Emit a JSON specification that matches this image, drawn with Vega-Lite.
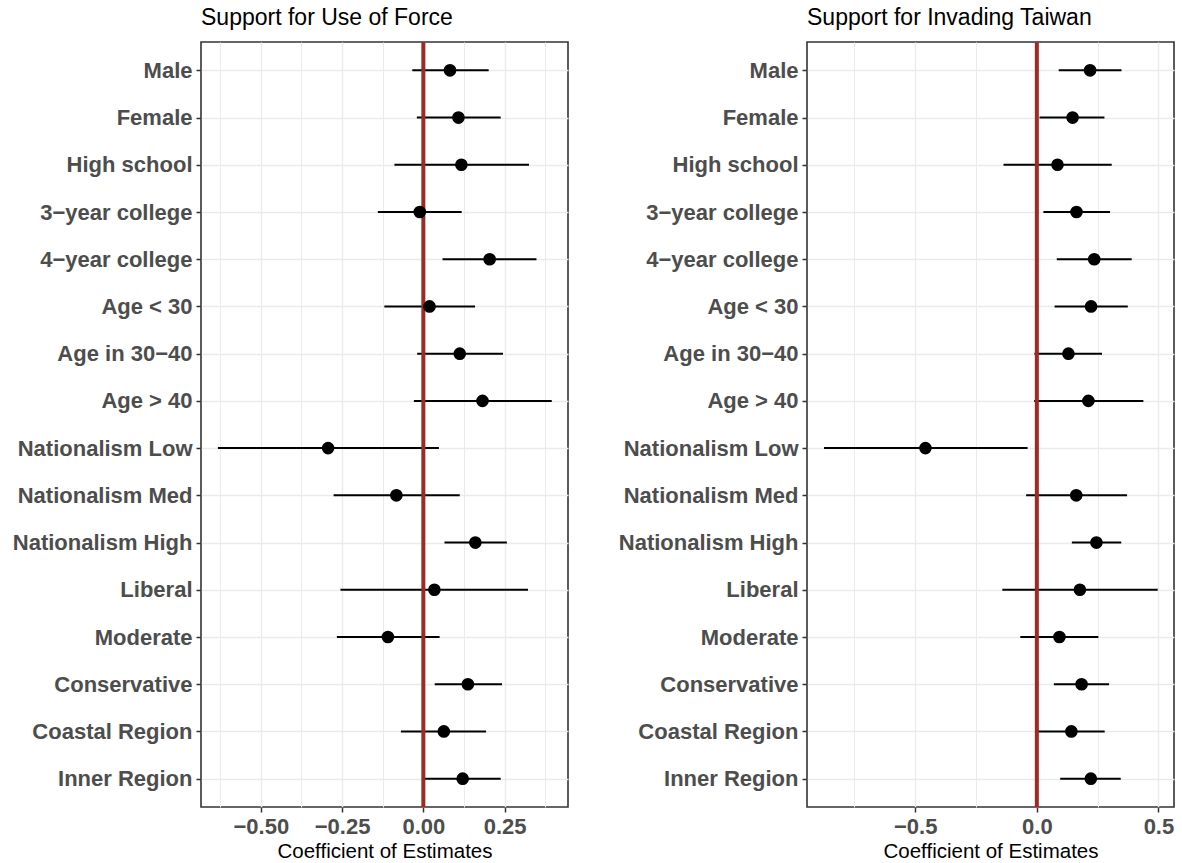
{
  "$schema": "https://vega.github.io/schema/vega-lite/v6.json",
  "background": "white",
  "padding": {"left": 11, "top": 6, "right": 4, "bottom": 4},
  "config": {
    "font": "Liberation Sans",
    "view": {"stroke": "#333333", "strokeWidth": 1.6},
    "concat": {"spacing": 48},
    "axis": {
      "domain": false,
      "gridColor": "#EBEBEB",
      "gridWidth": 1.4,
      "tickColor": "#333333",
      "tickWidth": 1.5,
      "tickSize": 5,
      "labelFont": "Liberation Sans",
      "labelFontSize": 22,
      "labelFontWeight": "bold",
      "labelColor": "#4D4D4D",
      "labelPadding": 4,
      "titleFont": "Liberation Sans",
      "titleFontSize": 20.5,
      "titleFontWeight": "normal",
      "titleColor": "#000000",
      "titlePadding": 4
    },
    "title": {"font": "Liberation Sans", "fontSize": 23, "fontWeight": "normal", "color": "#000000", "anchor": "start", "frame": "group", "offset": 10}
  },
  "datasets": {
    "force": [
      {"term": "Male", "est": 0.082, "lo": -0.034, "hi": 0.201},
      {"term": "Female", "est": 0.108, "lo": -0.020, "hi": 0.238},
      {"term": "High school", "est": 0.117, "lo": -0.089, "hi": 0.325},
      {"term": "3−year college", "est": -0.011, "lo": -0.140, "hi": 0.118},
      {"term": "4−year college", "est": 0.204, "lo": 0.059, "hi": 0.348},
      {"term": "Age < 30", "est": 0.019, "lo": -0.120, "hi": 0.159},
      {"term": "Age in 30−40", "est": 0.112, "lo": -0.019, "hi": 0.245},
      {"term": "Age > 40", "est": 0.182, "lo": -0.029, "hi": 0.395},
      {"term": "Nationalism Low", "est": -0.293, "lo": -0.632, "hi": 0.048},
      {"term": "Nationalism Med", "est": -0.083, "lo": -0.276, "hi": 0.112},
      {"term": "Nationalism High", "est": 0.160, "lo": 0.065, "hi": 0.257},
      {"term": "Liberal", "est": 0.034, "lo": -0.255, "hi": 0.322},
      {"term": "Moderate", "est": -0.109, "lo": -0.266, "hi": 0.050},
      {"term": "Conservative", "est": 0.137, "lo": 0.035, "hi": 0.242},
      {"term": "Coastal Region", "est": 0.063, "lo": -0.069, "hi": 0.193},
      {"term": "Inner Region", "est": 0.121, "lo": 0.005, "hi": 0.238}
    ],
    "taiwan": [
      {"term": "Male", "est": 0.219, "lo": 0.090, "hi": 0.348},
      {"term": "Female", "est": 0.147, "lo": 0.011, "hi": 0.278},
      {"term": "High school", "est": 0.085, "lo": -0.137, "hi": 0.308},
      {"term": "3−year college", "est": 0.163, "lo": 0.027, "hi": 0.301},
      {"term": "4−year college", "est": 0.236, "lo": 0.082, "hi": 0.390},
      {"term": "Age < 30", "est": 0.223, "lo": 0.073, "hi": 0.374},
      {"term": "Age in 30−40", "est": 0.130, "lo": -0.010, "hi": 0.268},
      {"term": "Age > 40", "est": 0.212, "lo": -0.011, "hi": 0.438},
      {"term": "Nationalism Low", "est": -0.458, "lo": -0.875, "hi": -0.038},
      {"term": "Nationalism Med", "est": 0.162, "lo": -0.044, "hi": 0.371},
      {"term": "Nationalism High", "est": 0.245, "lo": 0.144, "hi": 0.347},
      {"term": "Liberal", "est": 0.177, "lo": -0.142, "hi": 0.497},
      {"term": "Moderate", "est": 0.093, "lo": -0.068, "hi": 0.253},
      {"term": "Conservative", "est": 0.184, "lo": 0.070, "hi": 0.297},
      {"term": "Coastal Region", "est": 0.142, "lo": 0.003, "hi": 0.279},
      {"term": "Inner Region", "est": 0.222, "lo": 0.096, "hi": 0.345}
    ],
    "zero": [{"z": 0}]
  },
  "hconcat": [
    {
      "width": 367,
      "height": 765,
      "title": "Support for Use of Force",
      "layer": [
        {
          "data": {"name": "force"},
          "mark": {"type": "rule", "strokeWidth": 2, "color": "black"},
          "encoding": {
            "y": {"field": "term", "type": "nominal", "sort": null, "scale": {"type": "point", "padding": 0.6}, "axis": {"title": null, "grid": true}},
            "x": {
              "field": "lo", "type": "quantitative",
              "scale": {"domain": [-0.684, 0.445], "nice": false, "zero": false},
              "axis": {
                "title": "Coefficient of Estimates",
                "values": [-0.625, -0.5, -0.375, -0.25, -0.125, 0, 0.125, 0.25, 0.375],
                "labelExpr": "abs(datum.value*4 - round(datum.value*4)) > 0.01 ? '' : replace(format(datum.value, '.2f'), '-', '−')",
                "tickOpacity": {"condition": {"test": "abs(datum.value*4 - round(datum.value*4)) > 0.01", "value": 0}, "value": 1},
                "gridWidth": {"condition": {"test": "abs(datum.value*4 - round(datum.value*4)) > 0.01", "value": 1.0}, "value": 1.4}
              }
            },
            "x2": {"field": "hi"}
          }
        },
        {
          "data": {"name": "zero"},
          "mark": {"type": "rule", "strokeWidth": 4, "color": "#9E2A24"},
          "encoding": {"x": {"field": "z", "type": "quantitative", "title": "Coefficient of Estimates"}}
        },
        {
          "data": {"name": "force"},
          "mark": {"type": "circle", "size": 160, "color": "black", "opacity": 1},
          "encoding": {
            "y": {"field": "term", "type": "nominal", "sort": null, "title": null},
            "x": {"field": "est", "type": "quantitative", "title": "Coefficient of Estimates"}
          }
        }
      ]
    },
    {
      "width": 367,
      "height": 765,
      "title": "Support for Invading Taiwan",
      "layer": [
        {
          "data": {"name": "taiwan"},
          "mark": {"type": "rule", "strokeWidth": 2, "color": "black"},
          "encoding": {
            "y": {"field": "term", "type": "nominal", "sort": null, "scale": {"type": "point", "padding": 0.6}, "axis": {"title": null, "grid": true}},
            "x": {
              "field": "lo", "type": "quantitative",
              "scale": {"domain": [-0.945, 0.564], "nice": false, "zero": false},
              "axis": {
                "title": "Coefficient of Estimates",
                "values": [-0.75, -0.5, -0.25, 0, 0.25, 0.5],
                "labelExpr": "abs(datum.value*2 - round(datum.value*2)) > 0.01 ? '' : replace(format(datum.value, '.1f'), '-', '−')",
                "tickOpacity": {"condition": {"test": "abs(datum.value*2 - round(datum.value*2)) > 0.01", "value": 0}, "value": 1},
                "gridWidth": {"condition": {"test": "abs(datum.value*2 - round(datum.value*2)) > 0.01", "value": 1.0}, "value": 1.4}
              }
            },
            "x2": {"field": "hi"}
          }
        },
        {
          "data": {"name": "zero"},
          "mark": {"type": "rule", "strokeWidth": 4, "color": "#9E2A24"},
          "encoding": {"x": {"field": "z", "type": "quantitative", "title": "Coefficient of Estimates"}}
        },
        {
          "data": {"name": "taiwan"},
          "mark": {"type": "circle", "size": 160, "color": "black", "opacity": 1},
          "encoding": {
            "y": {"field": "term", "type": "nominal", "sort": null, "title": null},
            "x": {"field": "est", "type": "quantitative", "title": "Coefficient of Estimates"}
          }
        }
      ]
    }
  ]
}
